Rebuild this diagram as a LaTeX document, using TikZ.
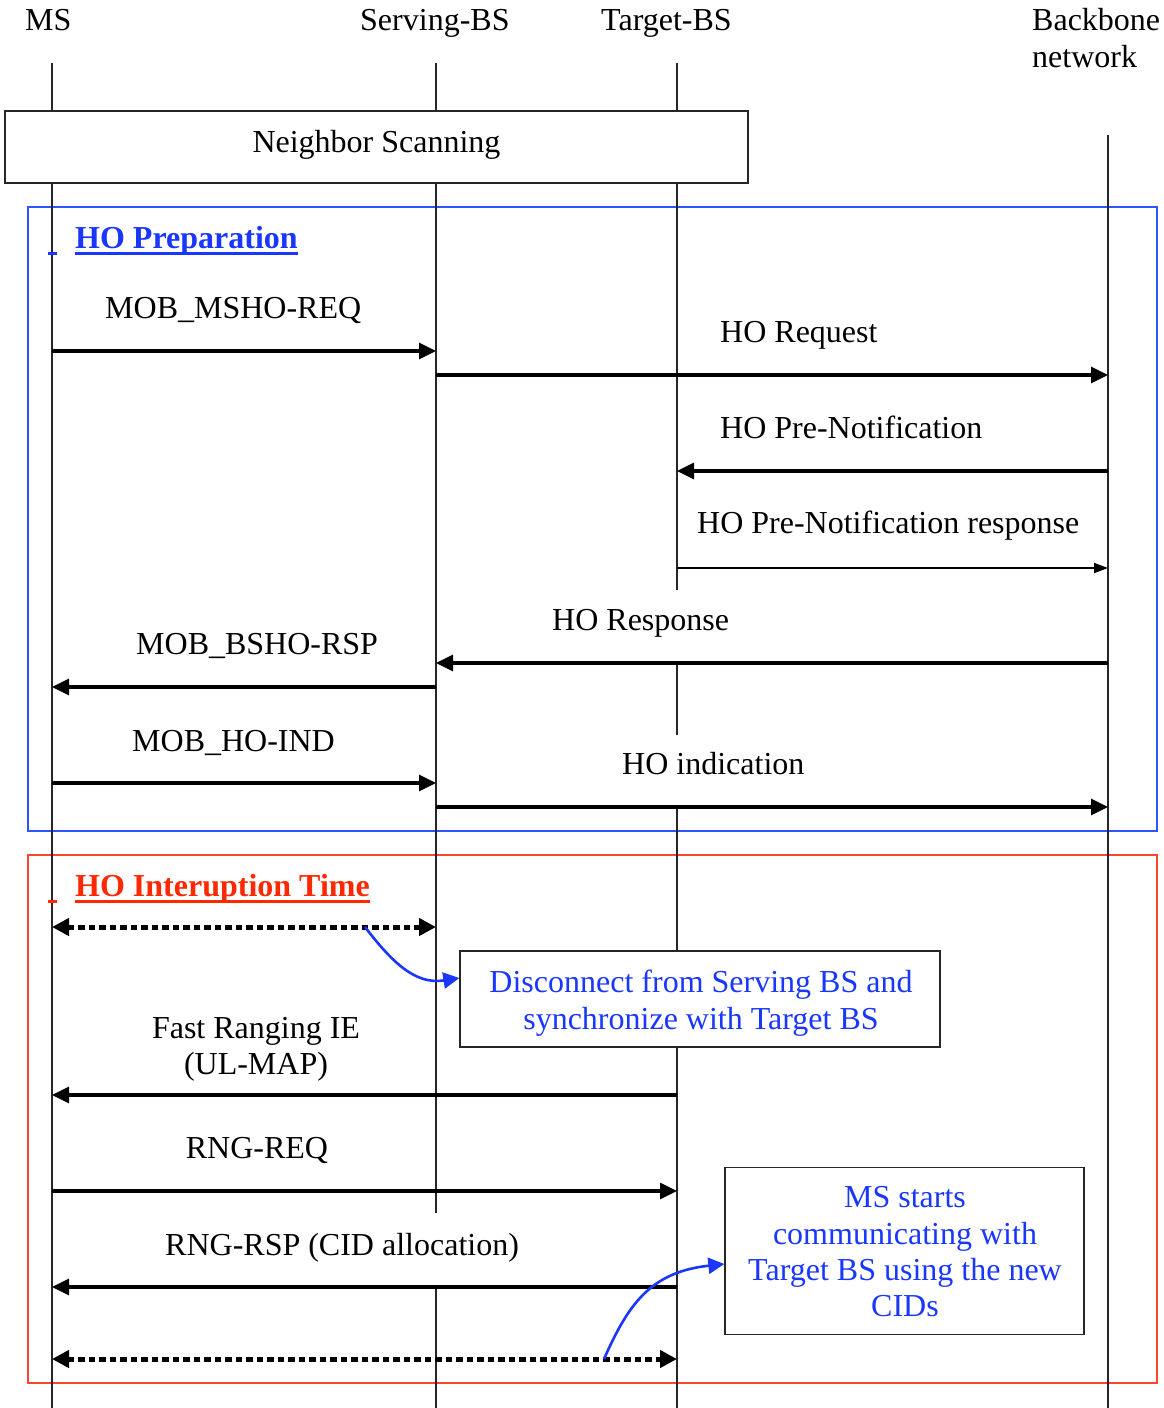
\documentclass[tikz,border=0pt]{standalone}
\usepackage{fontspec}
\setmainfont{Liberation Serif}
\usetikzlibrary{arrows.meta}
\definecolor{hoblue}{RGB}{25,55,255}
\definecolor{frblue}{RGB}{45,85,255}
\definecolor{hored}{RGB}{255,40,0}
\definecolor{frred}{RGB}{255,70,45}
\tikzset{
  lbl/.style={inner sep=0pt, font=\fontsize{32}{36.5}\selectfont},
  bluelbl/.style={lbl, text=hoblue},
  life/.style={line width=1.3pt, black!85},
  msg/.style={line width=3.2pt, -{Triangle[length=17pt,width=16pt]}},
  thinmsg/.style={line width=1.8pt, -{Triangle[length=14pt,width=10pt]}},
  dotmsg/.style={line width=5pt, dash pattern=on 6.5pt off 4pt,
    {Triangle[length=17pt,width=17pt]}-{Triangle[length=17pt,width=17pt]}},
  notebox/.style={draw=black!85, line width=1.3pt, fill=white, inner sep=0pt},
  callout/.style={hoblue, line width=2.6pt, -{Triangle[length=16pt,width=16pt]}},
}
\begin{document}
\begin{tikzpicture}[x=1pt,y=-1pt]
\useasboundingbox (0,0) rectangle (1163,1408);
\fill[white] (0,0) rectangle (1163,1408);

% phase frames
\draw[frblue, line width=1.5pt] (28,207) rectangle (1157,831);
\draw[frred, line width=1.5pt] (28,855) rectangle (1157,1383);

% lifeline coordinates
\coordinate (msT) at (52,63);   \coordinate (msB) at (52,1408);
\coordinate (svT) at (436,63);  \coordinate (svB) at (436,1408);
\coordinate (sv1) at (436,1213); \coordinate (sv2) at (436,1287);
\coordinate (tgT) at (677,63);  \coordinate (tgB) at (677,1408);
\coordinate (tg1) at (677,590); \coordinate (tg2) at (677,662);
\coordinate (tg3) at (677,735); \coordinate (tg4) at (677,805);
\coordinate (bbT) at (1108,135); \coordinate (bbB) at (1108,1408);

% lifelines
\draw[life] (msT) -- (msB);
\draw[life] (svT) -- (sv1) (sv2) -- (svB);
\draw[life] (tgT) -- (tg1) (tg2) -- (tg3) (tg4) -- (tgB);
\draw[life] (bbT) -- (bbB);

% headers
\node[lbl, anchor=base west] (hms) at (25,30) {MS};
\node[lbl, anchor=base west] (hsv) at (360,30) {Serving-BS};
\node[lbl, anchor=base west] (htg) at (601,30) {Target-BS};
\node[lbl, anchor=base west] (hbb1) at (1032,30) {Backbone};
\node[lbl, anchor=base west] (hbb2) at (1032,67) {network};

% neighbor scanning
\node[notebox, minimum width=743pt, minimum height=72pt] (nsbox) at (376.5,147) {};
\node[lbl, anchor=base] (ns) at (376.5,152) {Neighbor Scanning};

% HO preparation
\node[lbl, anchor=base west, text=hoblue, font=\fontsize{32}{36.5}\selectfont\bfseries] (prep) at (75,248) {HO Preparation};
\draw[hoblue, line width=3pt] ([yshift=-5pt]prep.base west) -- ([yshift=-5pt]prep.base east);
\draw[hoblue, line width=3pt] (48,253) -- (57,253);

\coordinate (m1a) at (52,351);   \coordinate (m1b) at (436,351);
\coordinate (m2a) at (436,375);  \coordinate (m2b) at (1108,375);
\coordinate (m3a) at (1108,471); \coordinate (m3b) at (677,471);
\coordinate (m4a) at (677,568);  \coordinate (m4b) at (1108,568);
\coordinate (m5a) at (1108,663); \coordinate (m5b) at (436,663);
\coordinate (m6a) at (436,687);  \coordinate (m6b) at (52,687);
\coordinate (m7a) at (52,783);   \coordinate (m7b) at (436,783);
\coordinate (m8a) at (436,807);  \coordinate (m8b) at (1108,807);

\draw[msg] (m1a) -- (m1b);
\draw[msg] (m2a) -- (m2b);
\draw[msg] (m3a) -- (m3b);
\draw[thinmsg] (m4a) -- (m4b);
\draw[msg] (m5a) -- (m5b);
\draw[msg] (m6a) -- (m6b);
\draw[msg] (m7a) -- (m7b);
\draw[msg] (m8a) -- (m8b);

\node[lbl, anchor=base west] (l1) at (105,318) {MOB\_MSHO-REQ};
\node[lbl, anchor=base west] (l2) at (720,342) {HO Request};
\node[lbl, anchor=base west] (l3) at (720,438) {HO Pre-Notification};
\node[lbl, anchor=base west] (l4) at (697,533) {HO Pre-Notification response};
\node[lbl, anchor=base west] (l5) at (552,630) {HO Response};
\node[lbl, anchor=base west] (l6) at (136,654) {MOB\_BSHO-RSP};
\node[lbl, anchor=base west] (l7) at (132,751) {MOB\_HO-IND};
\node[lbl, anchor=base west] (l8) at (622,774) {HO indication};

% HO interruption
\node[lbl, anchor=base west, text=hored, font=\fontsize{32}{36.5}\selectfont\bfseries] (intr) at (75,896) {HO Interuption Time};
\draw[hored, line width=3pt] ([yshift=-5pt]intr.base west) -- ([yshift=-5pt]intr.base east);
\draw[hored, line width=3pt] (48,901) -- (57,901);

\coordinate (d1a) at (52,927);   \coordinate (d1b) at (436,927);
\coordinate (c1) at (365,927);
\coordinate (n1a) at (677,1095); \coordinate (n1b) at (52,1095);
\coordinate (n2a) at (52,1191);  \coordinate (n2b) at (677,1191);
\coordinate (n3a) at (677,1287); \coordinate (n3b) at (52,1287);
\coordinate (d2a) at (52,1359);  \coordinate (d2b) at (677,1359);
\coordinate (c2) at (604,1359);

\draw[dotmsg] (d1a) -- (d1b);
\draw[msg] (n1a) -- (n1b);
\draw[msg] (n2a) -- (n2b);
\draw[msg] (n3a) -- (n3b);
\draw[dotmsg] (d2a) -- (d2b);

% note boxes
\node[notebox, minimum width=480pt, minimum height=96pt] (disc) at (700,999) {};
\node[bluelbl, anchor=base] (disc1) at (701,992) {Disconnect from Serving BS and};
\node[bluelbl, anchor=base] (disc2) at (701,1029) {synchronize with Target BS};

\node[notebox, minimum width=359pt, minimum height=167pt] (start) at (904.5,1251) {};
\node[bluelbl, anchor=base] (st1) at (905,1207) {MS starts};
\node[bluelbl, anchor=base] (st2) at (905,1244) {communicating with};
\node[bluelbl, anchor=base] (st3) at (905,1280) {Target BS using the new};
\node[bluelbl, anchor=base] (st4) at (905,1316) {CIDs};

\draw[callout] (c1) .. controls (392,962) and (415,985) .. ([yshift=21pt]disc.west);
\draw[callout] (c2) .. controls (628,1305) and (650,1272) .. ([yshift=-13pt]start.west);

% labels of the interruption phase
\node[lbl, anchor=base] (f1) at (256,1038) {Fast Ranging IE};
\node[lbl, anchor=base] (f2) at (256,1074) {(UL-MAP)};
\node[lbl, anchor=base] (rq) at (257,1158) {RNG-REQ};
\node[lbl, anchor=base west] (rs) at (165,1255) {RNG-RSP (CID allocation)};
\end{tikzpicture}
\end{document}
